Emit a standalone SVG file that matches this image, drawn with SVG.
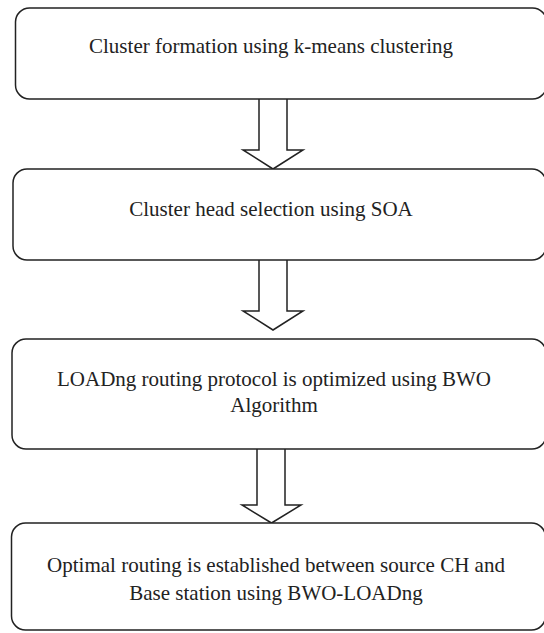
<svg xmlns="http://www.w3.org/2000/svg" width="544" height="633" viewBox="0 0 544 633">
<style>
.box{fill:#fff;stroke:#222;stroke-width:1.5}
.arr{fill:#fff;stroke:#222;stroke-width:1.5;stroke-linejoin:miter}
.t{font-family:'Liberation Serif','Times New Roman',serif;font-size:21px;fill:#222;text-anchor:middle}
</style>
<rect width="544" height="633" fill="#fff"/>
<g id="connectors">
<path class="arr" d="M259,99 V150 H243 L273,169 L303,150 H287 V99"/>
<path class="arr" d="M259,260 V311 H243 L273,330 L303,311 H287 V260"/>
<path class="arr" d="M257,449 V505 H242 L271.5,523 L301,505 H285 V449"/>
</g>
<g id="n1">
<rect class="box" x="15.5" y="8" width="531" height="91" rx="14"/>
<text class="t" font-family="Liberation Serif, serif" x="271" y="53">Cluster formation using k-means clustering</text>
</g>
<g id="n2">
<rect class="box" x="13" y="169" width="533" height="91" rx="14"/>
<text class="t" font-family="Liberation Serif, serif" x="271" y="216">Cluster head selection using SOA</text>
</g>
<g id="n3">
<rect class="box" x="12" y="339" width="534" height="110" rx="14"/>
<text class="t" font-family="Liberation Serif, serif" x="274" y="386">LOADng routing protocol is optimized using BWO</text>
<text class="t" font-family="Liberation Serif, serif" x="274" y="412">Algorithm</text>
</g>
<g id="n4">
<rect class="box" x="11.5" y="523" width="534" height="107" rx="14"/>
<text class="t" font-family="Liberation Serif, serif" x="276" y="572">Optimal routing is established between source CH and</text>
<text class="t" font-family="Liberation Serif, serif" x="276" y="600">Base station using BWO-LOADng</text>
</g>
</svg>
